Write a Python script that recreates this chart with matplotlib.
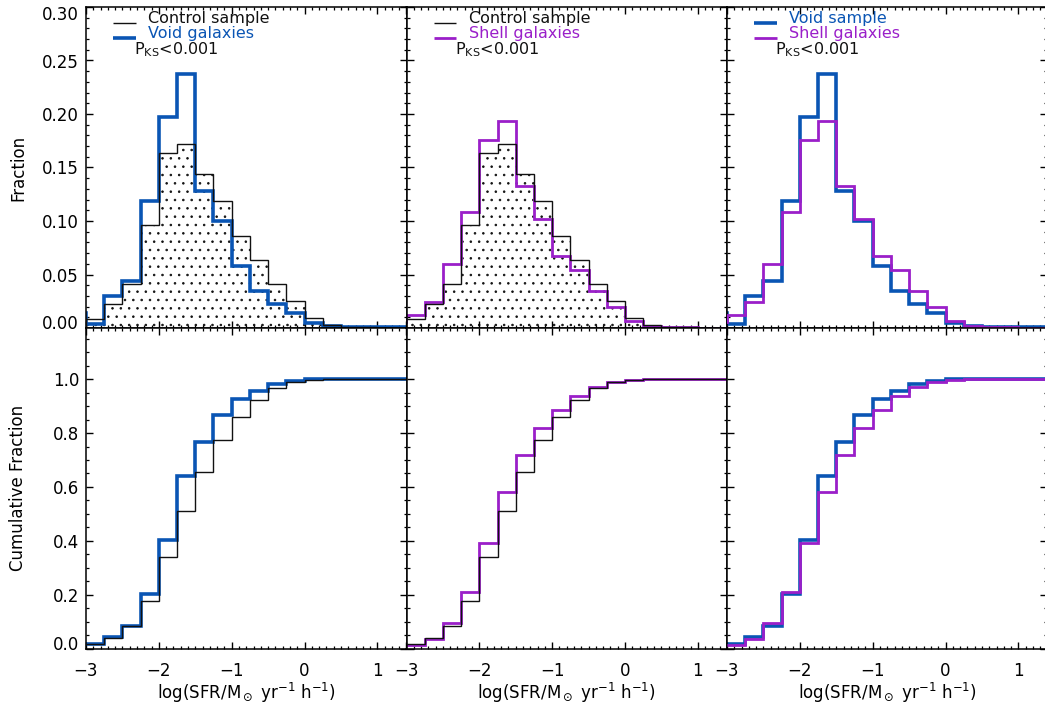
import numpy as np
import matplotlib
matplotlib.use("Agg")
import matplotlib.pyplot as plt
from matplotlib.ticker import MultipleLocator, FormatStrFormatter
from matplotlib.transforms import ScaledTranslation

plt.rcParams['font.family'] = ['DejaVu Sans']
plt.rcParams['hatch.linewidth'] = 0.6

# ---------------- data ----------------
bin_edges = [-3.25, -3.0, -2.75, -2.5, -2.25, -2.0, -1.75, -1.5, -1.25, -1.0,
             -0.75, -0.5, -0.25, 0.0, 0.25, 0.5, 0.75, 1.0, 1.25, 1.5]

control_frac = [0.0, 0.008, 0.022, 0.041, 0.096, 0.164, 0.172, 0.144, 0.119, 0.086,
                0.064, 0.041, 0.025, 0.009, 0.003, 0.001, 0.0005, 0.0003, 0.0002]
void_frac = [0.014, 0.004, 0.030, 0.044, 0.119, 0.197, 0.237, 0.128, 0.100, 0.058,
             0.035, 0.022, 0.014, 0.005, 0.002, 0.001, 0.0008, 0.0006, 0.0005]
shell_frac = [0.006, 0.012, 0.024, 0.060, 0.108, 0.176, 0.193, 0.133, 0.102, 0.067,
              0.054, 0.035, 0.020, 0.007, 0.002, 0.001, 0.0006, 0.0004, 0.0003]

cum_edges = [-3.0, -2.75, -2.5, -2.25, -2.0, -1.75, -1.5, -1.25, -1.0,
             -0.75, -0.5, -0.25, 0.0, 0.25, 0.5, 0.75, 1.0, 1.25, 1.5]
control_cum = [0.015, 0.040, 0.083, 0.175, 0.340, 0.511, 0.654, 0.774, 0.860,
               0.922, 0.966, 0.990, 0.998, 1.0, 1.0, 1.0, 1.0, 1.0]
void_cum = [0.018, 0.043, 0.085, 0.204, 0.401, 0.641, 0.768, 0.867, 0.925,
            0.957, 0.981, 0.994, 0.999, 1.0, 1.0, 1.0, 1.0, 1.0]
shell_cum = [0.012, 0.036, 0.095, 0.210, 0.390, 0.580, 0.720, 0.820, 0.885,
             0.937, 0.972, 0.990, 0.998, 1.0, 1.0, 1.0, 1.0, 1.0]

xticks = [-3, -2, -1, 0, 1]
ks_text = r'P$_{\rm KS}$<0.001'
xlabel = r'log(SFR/M$_\odot$ yr$^{-1}$ h$^{-1}$)'

# ---------------- style ----------------
BLACK = '#111111'
BLUE = '#0a55b4'
PURPLE = '#9a1fc9'
LW_BLACK, LW_BLUE, LW_PURPLE = 1.0, 2.6, 2.0

W_PX, H_PX = 1045, 711
fig = plt.figure(figsize=(W_PX / 100, H_PX / 100), dpi=100)

left0 = 86 / W_PX
pw = 320.5 / W_PX
top_b, top_h = 1 - 328 / H_PX, 321 / H_PX
bot_b, bot_h = 1 - 648.5 / H_PX, 320.5 / H_PX

axes_top = []
axes_bot = []
for i in range(3):
    axes_top.append(fig.add_axes([left0 + i * pw, top_b, pw, top_h]))
    axes_bot.append(fig.add_axes([left0 + i * pw, bot_b, pw, bot_h]))


def style_axis(ax, ymaj, ymin, ylim, fmt, show_x, show_y):
    ax.set_xlim(-3, 1.4)
    ax.set_ylim(*ylim)
    ax.set_xticks(xticks)
    ax.xaxis.set_minor_locator(MultipleLocator(0.1))
    ax.yaxis.set_major_locator(MultipleLocator(ymaj))
    ax.yaxis.set_minor_locator(MultipleLocator(ymin))
    ax.yaxis.set_major_formatter(FormatStrFormatter(fmt))
    ax.tick_params(which='both', direction='in', top=True, right=True,
                   labelsize=12, colors='black')
    ax.tick_params(which='major', length=5, width=1.0)
    ax.tick_params(which='minor', length=2.5, width=0.9)
    ax.tick_params(axis='x', pad=10)
    ax.tick_params(axis='y', pad=5)
    if not show_x:
        ax.tick_params(axis='x', labelbottom=False)
    if not show_y:
        ax.tick_params(axis='y', labelleft=False)
    for s in ax.spines.values():
        s.set_linewidth(1.1)


def hatched(ax, edges, vals):
    x = np.asarray(edges)
    y = np.append(np.asarray(vals), vals[-1])
    ax.fill_between(x, 0, y, step='post', facecolor='none', edgecolor=BLACK,
                    linewidth=0, hatch='..', zorder=1)


def legend_entry(ax, ypos, label, color, lw):
    ax.plot([0.085, 0.155], [ypos, ypos], color=color, lw=lw,
            transform=ax.transAxes, solid_capstyle='butt')
    ax.text(0.195, ypos, label, color=color, fontsize=11.5,
            transform=ax.transAxes, va='baseline', ha='left')


# ---------- top row ----------
ax = axes_top[0]
hatched(ax, bin_edges, control_frac)
ax.stairs(void_frac, bin_edges, baseline=None, color=BLUE, lw=LW_BLUE, zorder=2)
ax.stairs(control_frac, bin_edges, baseline=None, color=BLACK, lw=LW_BLACK, zorder=3)
legend_entry(ax, 0.950, 'Control sample', BLACK, LW_BLACK)
legend_entry(ax, 0.903, 'Void galaxies', BLUE, LW_BLUE)

ax = axes_top[1]
hatched(ax, bin_edges, control_frac)
ax.stairs(shell_frac, bin_edges, baseline=None, color=PURPLE, lw=LW_PURPLE, zorder=2)
ax.stairs(control_frac, bin_edges, baseline=None, color=BLACK, lw=LW_BLACK, zorder=3)
legend_entry(ax, 0.950, 'Control sample', BLACK, LW_BLACK)
legend_entry(ax, 0.903, 'Shell galaxies', PURPLE, LW_PURPLE)

ax = axes_top[2]
ax.stairs(void_frac, bin_edges, baseline=None, color=BLUE, lw=LW_BLUE, zorder=2)
ax.stairs(shell_frac, bin_edges, baseline=None, color=PURPLE, lw=LW_PURPLE, zorder=3)
legend_entry(ax, 0.950, 'Void sample', BLUE, LW_BLUE)
legend_entry(ax, 0.903, 'Shell galaxies', PURPLE, LW_PURPLE)

for i, ax in enumerate(axes_top):
    ax.text(0.150, 0.853, ks_text, fontsize=11.5, color=BLACK,
            transform=ax.transAxes, va='baseline', ha='left')
    style_axis(ax, 0.05, 0.01, (0.0, 0.30), '%.2f', False, i == 0)

# ---------- bottom row ----------
ax = axes_bot[0]
ax.stairs(void_cum, cum_edges, baseline=None, color=BLUE, lw=LW_BLUE, zorder=2)
ax.stairs(control_cum, cum_edges, baseline=None, color=BLACK, lw=LW_BLACK, zorder=3)

ax = axes_bot[1]
ax.stairs(shell_cum, cum_edges, baseline=None, color=PURPLE, lw=LW_PURPLE, zorder=2)
ax.stairs(control_cum, cum_edges, baseline=None, color=BLACK, lw=LW_BLACK, zorder=3)

ax = axes_bot[2]
ax.stairs(void_cum, cum_edges, baseline=None, color=BLUE, lw=LW_BLUE, zorder=2)
ax.stairs(shell_cum, cum_edges, baseline=None, color=PURPLE, lw=LW_PURPLE, zorder=3)

for i, ax in enumerate(axes_bot):
    style_axis(ax, 0.2, 0.05, (0.0, 1.19), '%.1f', True, i == 0)
    ax.set_xlabel(xlabel, fontsize=12, va='center')
    ax.xaxis.set_label_coords(0.5, -0.138)

axes_top[0].set_ylabel('Fraction', fontsize=12, va='center')
axes_top[0].yaxis.set_label_coords(-0.212, 0.5)
axes_bot[0].set_ylabel('Cumulative Fraction', fontsize=12, va='center')
axes_bot[0].yaxis.set_label_coords(-0.212, 0.5)

# nudge end labels inward as in the reference
fig.canvas.draw()
def nudge(ax, value, dy_px):
    for tick in ax.yaxis.get_major_ticks():
        if abs(tick.get_loc() - value) < 1e-6:
            lab = tick.label1
            lab.set_transform(lab.get_transform() +
                              ScaledTranslation(0, dy_px / 100, fig.dpi_scale_trans))

nudge(axes_top[0], 0.30, -6)
nudge(axes_top[0], 0.0, 6)
nudge(axes_bot[0], 0.0, 6)

fig.savefig('out.png', dpi=100)
